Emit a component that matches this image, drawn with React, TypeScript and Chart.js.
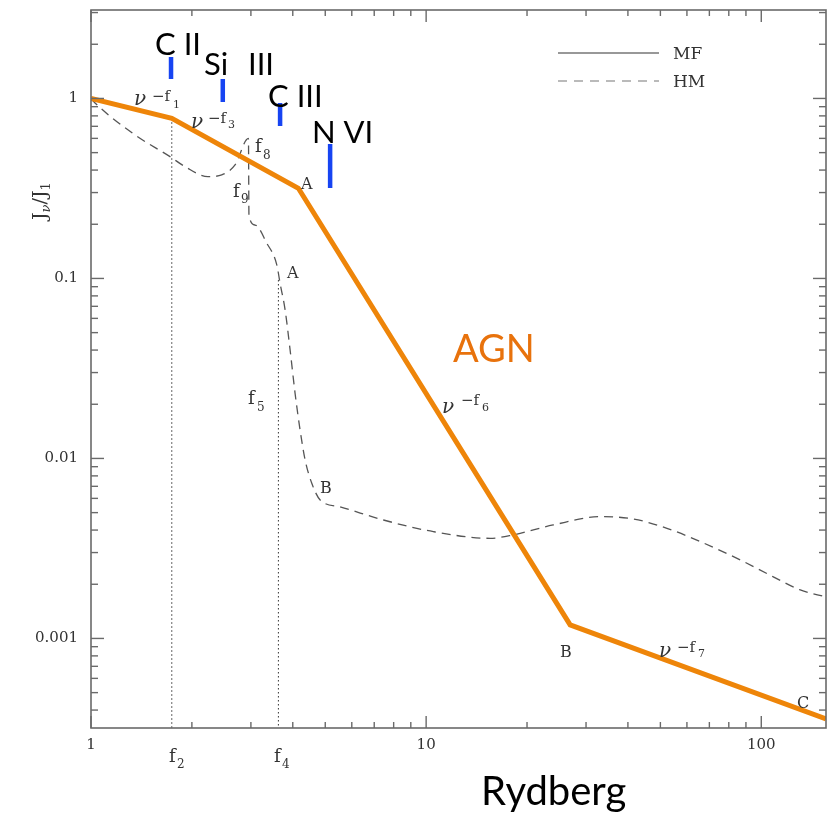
import React, { useEffect, useRef } from 'react';
import { Chart, registerables } from 'chart.js';

Chart.register(...registerables);

// ---- axis ranges (Rydberg, J_nu/J_1) ----
const X_MIN = 1;
const X_MAX = 156;
const Y_MIN = 3.18e-4;
const Y_MAX = 3.1;

const xTickValues = [1, 10, 100];
const xTickLabels = ['1', '10', '100'];
const yTickValues = [0.001, 0.01, 0.1, 1];
const yTickLabels = ['0.001', '0.01', '0.1', '1'];

// ---- MF (AGN broken power law) ----
const mfX = [1, 1.742, 4.157, 26.9, 156];
const mfY = [1, 0.776, 0.317, 0.00119, 0.000357];

// ---- HM (dashed) ----
const hmX = [1, 1.028, 1.353, 1.721, 1.908, 2.234, 2.455, 2.69, 2.95, 2.96, 3.087, 3.346, 3.584, 3.666, 3.795, 3.927, 4.064, 4.206, 4.354, 4.558, 4.828, 5.537, 7.457, 10.51, 15.52, 18.19, 23.94, 33.07, 41.48, 52.3, 65.8, 86.6, 108.6, 130.7, 156];
const hmY = [1, 0.944, 0.627, 0.475, 0.418, 0.368, 0.376, 0.427, 0.6, 0.225, 0.198, 0.157, 0.119, 0.094, 0.0668, 0.0401, 0.023, 0.0144, 0.00981, 0.00728, 0.00588, 0.00538, 0.00455, 0.00392, 0.0036, 0.00376, 0.00427, 0.00475, 0.00461, 0.00409, 0.00345, 0.00273, 0.0022, 0.00186, 0.0017];

// ---- ionisation edges (blue markers) ----
const ionNames = ['C II', 'Si III', 'C III', 'N VI'];
const ionEnergy = [1.733, 2.473, 3.666, 5.17];
const ionYTop = [1.7, 1.283, 0.944, 0.559];
const ionYBottom = [1.283, 0.956, 0.703, 0.318];

// ---- break frequencies (dotted verticals) ----
const breakNames = ['f2', 'f4'];
const breakEnergy = [1.742, 3.624];
const breakYTop = [0.776, 0.098];

const SERIF = '"DejaVu Serif", "Liberation Serif", serif';
const SANS = 'Lato, "Open Sans", sans-serif';
const ORANGE = '#EE8509';
const BLUE = '#1744F2';

type Piece = [string, number, number, number, boolean?];

// annotation text pieces: text, left, baseline, size, italic
const annotations: Piece[][] = [
  [['ν', 134, 105, 20, true], ['−f', 152, 101, 15], ['1', 173, 108, 11]],
  [['ν', 191, 128, 20, true], ['−f', 208, 123, 15], ['3', 228, 128, 11]],
  [['f', 255, 152, 18], ['8', 263, 159, 12]],
  [['f', 233, 197, 18], ['9', 241, 203, 12]],
  [['A', 301, 189, 16]],
  [['A', 287, 278, 16]],
  [['f', 248, 404, 18], ['5', 257, 411, 12]],
  [['B', 320, 493, 16]],
  [['ν', 442, 413, 20, true], ['−f', 461, 405, 15], ['6', 482, 411, 11]],
  [['B', 560, 657, 16]],
  [['ν', 659, 657, 20, true], ['−f', 677, 652, 15], ['7', 698, 657, 11]],
  [['C', 797, 708, 16]],
  [['f', 169, 762, 18], ['2', 177, 768, 12]],
  [['f', 274, 762, 18], ['4', 282, 768, 12]],
];

const overlayPlugin = {
  id: 'overlay',
  afterDraw(chart: any) {
    const { ctx, chartArea: a, scales } = chart;
    const xs = scales.x;
    const ys = scales.y;
    ctx.save();

    // frame
    ctx.strokeStyle = '#6a6a6a';
    ctx.lineWidth = 1.6;
    ctx.strokeRect(a.left, a.top, a.right - a.left, a.bottom - a.top);

    const logTicks = (min: number, max: number) => {
      const out: { v: number; major: boolean }[] = [];
      for (let e = Math.floor(Math.log10(min)); e <= Math.ceil(Math.log10(max)); e++) {
        for (let s = 1; s < 10; s++) {
          const v = s * Math.pow(10, e);
          if (v >= min * 0.9999 && v <= max * 1.0001) out.push({ v, major: s === 1 });
        }
      }
      return out;
    };
    const seg = (x1: number, y1: number, x2: number, y2: number) => {
      ctx.beginPath();
      ctx.moveTo(x1, y1);
      ctx.lineTo(x2, y2);
      ctx.stroke();
    };
    ctx.lineWidth = 1.4;
    for (const t of logTicks(xs.min, xs.max)) {
      const px = xs.getPixelForValue(t.v);
      const len = t.major ? 12 : 6;
      seg(px, a.bottom, px, a.bottom - len);
      seg(px, a.top, px, a.top + len);
    }
    for (const t of logTicks(ys.min, ys.max)) {
      const py = ys.getPixelForValue(t.v);
      const len = t.major ? 13 : 7;
      seg(a.left, py, a.left + len, py);
      seg(a.right, py, a.right - len, py);
    }

    const txt = (s: string, x: number, y: number, font: string, color: string) => {
      ctx.font = font;
      ctx.fillStyle = color;
      ctx.textAlign = 'left';
      ctx.textBaseline = 'alphabetic';
      ctx.fillText(s, x, y);
    };

    // serif annotations
    for (const group of annotations) {
      for (const [s, x, y, size, it] of group) {
        txt(s, x, y, `${it ? 'italic ' : ''}${size}px ${SERIF}`, '#333');
      }
    }

    // ion labels
    const ionFont = `31px ${SANS}`;
    txt('C II', 155, 55, ionFont, '#000');
    txt('Si', 204, 75, ionFont, '#000');
    txt('III', 248, 75, ionFont, '#000');
    txt('C III', 268, 107, ionFont, '#000');
    txt('N VI', 312, 143, ionFont, '#000');

    // AGN label
    txt('AGN', 453, 362, `38px ${SANS}`, '#E8720C');

    // x title
    txt('Rydberg', 481, 805, `40px ${SANS}`, '#000');

    // y title J_nu / J_1 rotated
    ctx.save();
    ctx.translate(46, 220);
    ctx.rotate(-Math.PI / 2);
    let cx = 0;
    const runs: [string, number, number, boolean][] = [
      ['J', 19, 0, false],
      ['ν', 13, 4, true],
      ['/', 19, 0, false],
      ['J', 19, 0, false],
      ['1', 13, 4, false],
    ];
    for (const [s, size, dy, it] of runs) {
      ctx.font = `${it ? 'italic ' : ''}${size}px ${SERIF}`;
      ctx.fillStyle = '#333';
      ctx.fillText(s, cx, dy);
      cx += ctx.measureText(s).width;
    }
    ctx.restore();

    // legend
    ctx.strokeStyle = '#333';
    ctx.lineWidth = 1.2;
    ctx.setLineDash([]);
    seg(558, 53, 659, 53);
    ctx.strokeStyle = '#777';
    ctx.setLineDash([9, 7]);
    seg(558, 81, 659, 81);
    ctx.setLineDash([]);
    txt('MF', 673, 59, `17px ${SERIF}`, '#333');
    txt('HM', 673, 87, `17px ${SERIF}`, '#333');

    ctx.restore();
  },
};

export default function App() {
  const ref = useRef<HTMLCanvasElement>(null);

  useEffect(() => {
    const canvas = ref.current;
    if (!canvas) return;

    const ionSets = ionNames.map((name, i) => ({
      label: name,
      data: [
        { x: ionEnergy[i], y: ionYTop[i] },
        { x: ionEnergy[i], y: ionYBottom[i] },
      ],
      showLine: true,
      borderColor: BLUE,
      borderWidth: 4.5,
      borderCapStyle: 'butt',
      pointRadius: 0,
    }));

    const breakSets = breakNames.map((name, i) => ({
      label: name,
      data: [
        { x: breakEnergy[i], y: breakYTop[i] },
        { x: breakEnergy[i], y: Y_MIN },
      ],
      showLine: true,
      borderColor: '#333',
      borderWidth: 1,
      borderDash: [1.5, 2.5],
      pointRadius: 0,
    }));

    const chart = new Chart(canvas, {
      type: 'scatter',
      data: {
        datasets: [
          ...ionSets,
          {
            label: 'MF',
            data: mfX.map((x, i) => ({ x, y: mfY[i] })),
            showLine: true,
            borderColor: ORANGE,
            borderWidth: 5,
            borderJoinStyle: 'miter',
            pointRadius: 0,
          },
          {
            label: 'HM',
            data: hmX.map((x, i) => ({ x, y: hmY[i] })),
            showLine: true,
            borderColor: '#555',
            borderWidth: 1.3,
            borderDash: [9, 6],
            cubicInterpolationMode: 'monotone',
            pointRadius: 0,
          },
          ...breakSets,
        ] as any,
      },
      options: {
        animation: false,
        responsive: false,
        maintainAspectRatio: false,
        layout: { padding: { left: 8, top: 10, right: 2, bottom: 0 } },
        plugins: { legend: { display: false }, tooltip: { enabled: false } },
        elements: { point: { radius: 0, hoverRadius: 0 } },
        scales: {
          x: {
            type: 'logarithmic',
            min: X_MIN,
            max: X_MAX,
            bounds: 'data',
            position: 'bottom',
            afterBuildTicks: (s: any) => {
              s.min = X_MIN;
              s.max = X_MAX;
              s.ticks = xTickValues.map((v) => ({ value: v }));
            },
            afterFit: (s: any) => {
              s.height = 85;
              s.paddingLeft = 0;
              s.paddingRight = 0;
              s.paddingTop = 0;
              s.paddingBottom = 0;
            },
            ticks: {
              autoSkip: false,
              maxRotation: 0,
              padding: 8,
              color: '#333',
              font: { family: SERIF, size: 15 },
              callback: (_v: any, i: number) => xTickLabels[i],
            },
            grid: { display: false, drawTicks: false },
            border: { display: false },
          },
          y: {
            type: 'logarithmic',
            min: Y_MIN,
            max: Y_MAX,
            bounds: 'data',
            afterBuildTicks: (s: any) => {
              s.min = Y_MIN;
              s.max = Y_MAX;
              s.ticks = yTickValues.map((v) => ({ value: v }));
            },
            afterFit: (s: any) => {
              s.width = 83;
              s.paddingLeft = 0;
              s.paddingRight = 0;
              s.paddingTop = 0;
              s.paddingBottom = 0;
            },
            ticks: {
              autoSkip: false,
              padding: 13,
              color: '#333',
              font: { family: SERIF, size: 15 },
              callback: (_v: any, i: number) => yTickLabels[i],
            },
            grid: { display: false, drawTicks: false },
            border: { display: false },
          },
        },
      } as any,
      plugins: [overlayPlugin],
    });

    return () => chart.destroy();
  }, []);

  return (
    <div style={{ position: 'absolute', left: 0, top: 0, width: 828, height: 813, background: '#fff' }}>
      <canvas ref={ref} width={828} height={813} style={{ display: 'block', width: 828, height: 813 }} />
    </div>
  );
}
